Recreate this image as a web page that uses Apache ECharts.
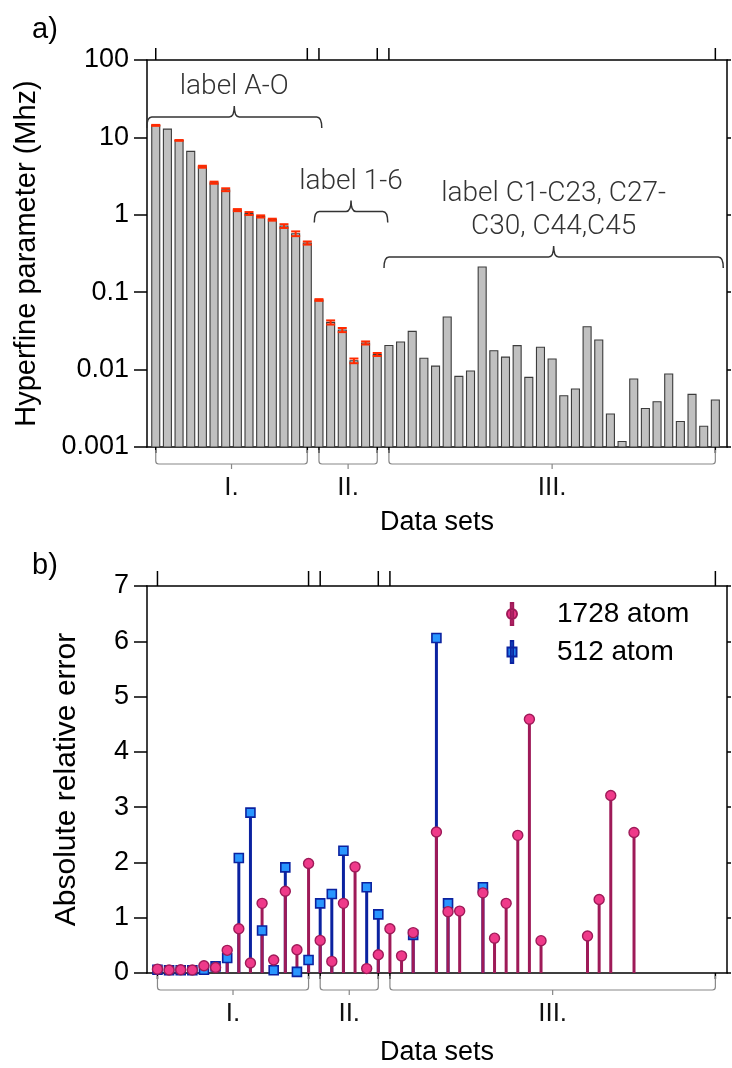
<!DOCTYPE html>
<html><head><meta charset="utf-8">
<script src="https://cdn.jsdelivr.net/npm/echarts@6/dist/echarts.min.js"></script>
<style>html,body{margin:0;padding:0;background:#fff}#c{width:732px;height:1068px}</style>
</head><body><div id="c"></div>
<script>
// ---------- data ----------
const hyperfine = [14.3, 12.8, 9.14, 6.59, 4.18, 2.60, 2.11, 1.15, 1.04, 0.953,
  0.865, 0.716, 0.570, 0.432, 0.0793, 0.0407, 0.0325, 0.0130, 0.0221, 0.0157,
  0.0205, 0.0227, 0.0312, 0.0140, 0.0111, 0.0478, 0.00817, 0.00959, 0.212, 0.0175,
  0.0145, 0.0204, 0.00793, 0.0194, 0.0137, 0.00460, 0.00561, 0.0358, 0.0241, 0.00267,
  0.00118, 0.00757, 0.00315, 0.00385, 0.00877, 0.00214, 0.00478, 0.00185, 0.00405];
const hyperfineErr = [0.2, null, 0.1, null, 0.12, 0.08, 0.09, 0.035, 0.045, 0.03,
  0.025, 0.04, 0.04, 0.02, 0.002, 0.0025, 0.002, 0.0009, 0.001, 0.0007];
const err1728 = [0.07, 0.055, 0.06, 0.055, 0.13, 0.10, 0.41, 0.80, 0.18, 1.26,
  0.235, 1.48, 0.42, 1.98, 0.59, 0.21, 1.26, 1.92, 0.08, 0.33,
  0.80, 0.31, 0.73, null, 2.55, 1.11, 1.12, null, 1.45, 0.63,
  1.26, 2.49, 4.59, 0.585, null, null, null, 0.67, 1.33, 3.21,
  null, 2.54, null, null, null, null, null, null, null];
const err512 = [0.06, 0.05, 0.05, 0.05, 0.06, 0.12, 0.27, 2.08, 2.90, 0.77,
  0.05, 1.91, 0.02, 0.235, 1.26, 1.43, 2.21, null, 1.55, 1.06,
  null, null, 0.69, null, 6.06, 1.26, null, null, 1.55, null,
  null, null, null, null, null, null, null, null, null, null,
  null, null, null, null, null, null, null, null, null];
const groupNames = ['I.', 'II.', 'III.'];
const groupStart = [0, 14, 20];
const groupEnd = [13, 19, 48];
const labelTexts = ['label A-O', 'label 1-6', 'label C1-C23, C27-\nC30, C44,C45'];
const labelFrom = [-0.77, 13.6, 19.58];
const labelTo = [14.24, 19.9, 48.68];
const labelLevel = [18.4, 1.107, 0.2855];
const logTickValues = [0.001, 0.01, 0.1, 1, 10, 100];
const logTickLabels = ['0.001', '0.01', '0.1', '1', '10', '100'];
const linTickLabels = ['0', '1', '2', '3', '4', '5', '6', '7'];
const legendNames = ['1728 atom', '512 atom'];

// ---------- styling ----------
const FONT = '"Liberation Sans", Arial, Helvetica, sans-serif';
const LIGHT = 'Roboto, "Liberation Sans", sans-serif';
const PINK = '#ef3a8a', PINK_DARK = '#9e1a58';
const BLUE = '#2996ff', BLUE_DARK = '#0b22a0';
const AXLINE = { show: true, onZero: false, lineStyle: { color: '#000', width: 1.5 } };

const chart = echarts.init(document.getElementById('c'));

function groupRender(yRef, topTick) {
  return function (params, api) {
    const g = params.dataIndex;
    const cs = params.coordSys;
    const yt = cs.y, yb = cs.y + cs.height;
    const xs = api.coord([groupStart[g], yRef])[0];
    const xe = api.coord([groupEnd[g], yRef])[0];
    const xm = (xs + xe) / 2;
    const tick = (x, y0, y1) => ({ type: 'line', shape: { x1: x, y1: y0, x2: x, y2: y1 },
      style: { stroke: '#000', lineWidth: 1.5 } });
    const h = yb + 17;
    return { type: 'group', children: [
      tick(xs, yt, yt - topTick), tick(xe, yt, yt - topTick),
      tick(xs, yb, yb + 6), tick(xe, yb, yb + 6),
      { type: 'path', shape: { pathData:
        `M${xs},${yb + 3}L${xs},${h - 3}Q${xs},${h} ${xs + 3},${h}L${xe - 3},${h}Q${xe},${h} ${xe},${h - 3}L${xe},${yb + 3}M${xm},${h}L${xm},${h + 5}` },
        style: { stroke: '#888', fill: null, lineWidth: 1.2 } },
      { type: 'text', style: { text: groupNames[g], x: xm, y: yb + 41, align: 'center',
        verticalAlign: 'middle', fontSize: 26, fontFamily: FONT, fill: '#111' } }
    ] };
  };
}

function stemSeries(values, color, xIdx, yIdx, z) {
  return {
    type: 'custom', xAxisIndex: xIdx, yAxisIndex: yIdx, z: z, clip: false,
    data: values.map((v, i) => v == null ? null : [i, v]).filter(d => d),
    renderItem: (params, api) => {
      const p = api.coord([api.value(0), api.value(1)]);
      const b = api.coord([api.value(0), 0]);
      return { type: 'line', shape: { x1: p[0], y1: p[1], x2: b[0], y2: b[1] },
        style: { stroke: color, lineWidth: 3 } };
    }
  };
}

const option = {
  animation: false,
  backgroundColor: '#fff',
  textStyle: { fontFamily: FONT },
  grid: [
    { left: 147, right: 5, top: 60, height: 387 },
    { left: 147, right: 5, top: 586, height: 387 }
  ],
  xAxis: [
    { gridIndex: 0, type: 'value', min: -0.75, max: 49, position: 'bottom',
      axisLine: AXLINE, axisTick: { show: false },
      axisLabel: { show: false }, splitLine: { show: false },
      name: 'Data sets', nameLocation: 'middle', nameGap: 62,
      nameTextStyle: { fontSize: 27, color: '#000', fontFamily: FONT } },
    { gridIndex: 0, type: 'value', min: -0.75, max: 49, position: 'top',
      axisLine: AXLINE, axisTick: { show: false },
      axisLabel: { show: false }, splitLine: { show: false } },
    { gridIndex: 1, type: 'value', min: -0.9, max: 49, position: 'bottom',
      axisLine: AXLINE, axisTick: { show: false },
      axisLabel: { show: false }, splitLine: { show: false },
      name: 'Data sets', nameLocation: 'middle', nameGap: 66,
      nameTextStyle: { fontSize: 27, color: '#000', fontFamily: FONT } },
    { gridIndex: 1, type: 'value', min: -0.9, max: 49, position: 'top',
      axisLine: AXLINE, axisTick: { show: false },
      axisLabel: { show: false }, splitLine: { show: false } }
  ],
  yAxis: [
    { gridIndex: 0, type: 'log', logBase: 10, min: 0.001, max: 100, position: 'left',
      axisLine: AXLINE,
      axisTick: { show: true, length: 13, lineStyle: { color: '#000', width: 1.5 } },
      minorTick: { show: false }, splitLine: { show: false },
      axisLabel: { margin: 18, fontSize: 27, color: '#000', fontFamily: FONT,
        formatter: v => { let k = 0; logTickValues.forEach((t, i) => { if (Math.abs(Math.log10(v) - Math.log10(t)) < 0.01) k = i; }); return logTickLabels[k]; } },
      name: 'Hyperfine parameter (Mhz)', nameLocation: 'middle', nameGap: 106, nameRotate: 90,
      nameTextStyle: { fontSize: 29, color: '#000', fontFamily: FONT } },
    { gridIndex: 0, type: 'log', logBase: 10, min: 0.001, max: 100, position: 'right',
      axisLine: AXLINE,
      axisTick: { show: true, length: 4, lineStyle: { color: '#000', width: 1.5 } },
      axisLabel: { show: false }, splitLine: { show: false } },
    { gridIndex: 1, type: 'value', min: 0, max: 7, interval: 1, position: 'left',
      axisLine: AXLINE,
      axisTick: { show: true, length: 13, lineStyle: { color: '#000', width: 1.5 } },
      splitLine: { show: false },
      axisLabel: { margin: 18, fontSize: 27, color: '#000', fontFamily: FONT,
        formatter: v => linTickLabels[Math.round(v)] },
      name: 'Absolute relative error', nameLocation: 'middle', nameGap: 65, nameRotate: 90,
      nameTextStyle: { fontSize: 30, color: '#000', fontFamily: FONT } },
    { gridIndex: 1, type: 'value', min: 0, max: 7, interval: 1, position: 'right',
      axisLine: AXLINE,
      axisTick: { show: true, length: 4, lineStyle: { color: '#000', width: 1.5 } },
      axisLabel: { show: false }, splitLine: { show: false } }
  ],
  legend: {
    orient: 'vertical', left: 506, top: 600, itemWidth: 12, itemHeight: 22, itemGap: 10,
    selectedMode: false, padding: 0,
    textStyle: { fontSize: 28, color: '#000', fontFamily: FONT, padding: [0, 0, 0, 34] },
    data: [
      { name: legendNames[0], icon: 'path://M4.8,0H7.2V22H4.8Z M11,11A5,5 0 1 1 1,11A5,5 0 1 1 11,11Z' },
      { name: legendNames[1], icon: 'path://M4.8,0H7.2V22H4.8Z M1.5,6.5H10.5V15.5H1.5Z' }
    ]
  },
  graphic: [
    { type: 'text', left: 32, top: 15, style: { text: 'a)', fontSize: 29, fontFamily: FONT, fill: '#000' } },
    { type: 'text', left: 32, top: 551, style: { text: 'b)', fontSize: 29, fontFamily: FONT, fill: '#000' } }
  ],
  series: [
    // bars (panel a)
    { type: 'custom', xAxisIndex: 0, yAxisIndex: 0, z: 2,
      data: hyperfine.map((v, i) => [i, v]),
      renderItem: (params, api) => {
        const top = api.coord([api.value(0), api.value(1)]);
        const base = api.coord([api.value(0), 0.001]);
        const w = 8;
        return { type: 'rect', shape: { x: top[0] - w / 2, y: top[1], width: w, height: base[1] - top[1] },
          style: { fill: '#c0c0c0', stroke: '#3c3c3c', lineWidth: 1.1 } };
      } },
    // error bars (panel a)
    { type: 'custom', xAxisIndex: 0, yAxisIndex: 0, z: 3,
      data: hyperfineErr.map((e, i) => e == null ? null : [i, hyperfine[i], e]).filter(d => d),
      renderItem: (params, api) => {
        const x = api.value(0), v = api.value(1), e = api.value(2);
        const hi = api.coord([x, v + e]), lo = api.coord([x, v - e]);
        const st = { stroke: '#ff2a00', lineWidth: 2 };
        const c = 4.5;
        return { type: 'group', children: [
          { type: 'line', shape: { x1: hi[0], y1: hi[1], x2: lo[0], y2: lo[1] }, style: st },
          { type: 'line', shape: { x1: hi[0] - c, y1: hi[1], x2: hi[0] + c, y2: hi[1] }, style: st },
          { type: 'line', shape: { x1: lo[0] - c, y1: lo[1], x2: lo[0] + c, y2: lo[1] }, style: st }
        ] };
      } },
    // label brackets (panel a)
    { type: 'custom', xAxisIndex: 0, yAxisIndex: 0, z: 4, clip: false,
      data: labelTexts.map((t, i) => [labelFrom[i], labelLevel[i]]),
      renderItem: (params, api) => {
        const i = params.dataIndex;
        const a = api.coord([labelFrom[i], labelLevel[i]]);
        const b = api.coord([labelTo[i], labelLevel[i]]);
        const y = a[1], xa = a[0], xb = b[0], xm = (xa + xb) / 2, d = 11;
        return { type: 'group', children: [
          { type: 'path', shape: { pathData:
            `M${xa},${y + d}Q${xa},${y} ${xa + 5},${y}L${xm - 5},${y}Q${xm},${y} ${xm},${y - d}Q${xm},${y} ${xm + 5},${y}L${xb - 5},${y}Q${xb},${y} ${xb},${y + d}` },
            style: { stroke: '#333', fill: null, lineWidth: 1.5 } },
          { type: 'text', style: { text: labelTexts[i], x: xm, y: y - 13, align: 'center',
            verticalAlign: 'bottom', lineHeight: 33, fontSize: 28, fontFamily: LIGHT, fontWeight: 300, fill: '#333' } }
        ] };
      } },
    // group brackets + boundary ticks
    { type: 'custom', xAxisIndex: 0, yAxisIndex: 0, z: 4, clip: false,
      data: groupNames.map((n, g) => [groupStart[g], 1]), renderItem: groupRender(1, 12) },
    { type: 'custom', xAxisIndex: 2, yAxisIndex: 2, z: 4, clip: false,
      data: groupNames.map((n, g) => [groupStart[g], 1]), renderItem: groupRender(1, 15) },
    // stems (panel b)
    stemSeries(err512, BLUE_DARK, 2, 2, 2),
    stemSeries(err1728, PINK_DARK, 2, 2, 3),
    { type: 'scatter', name: legendNames[1], xAxisIndex: 2, yAxisIndex: 2, z: 4,
      symbol: 'rect', symbolSize: 9,
      itemStyle: { color: BLUE, borderColor: BLUE_DARK, borderWidth: 1.6, opacity: 1 },
      data: err512.map((v, i) => v == null ? null : [i, v]).filter(d => d) },
    { type: 'scatter', name: legendNames[0], xAxisIndex: 2, yAxisIndex: 2, z: 5,
      symbol: 'circle', symbolSize: 10,
      itemStyle: { color: PINK, borderColor: PINK_DARK, borderWidth: 1.4, opacity: 1 },
      data: err1728.map((v, i) => v == null ? null : [i, v]).filter(d => d) }
  ]
};
chart.setOption(option);
</script>
</body></html>
